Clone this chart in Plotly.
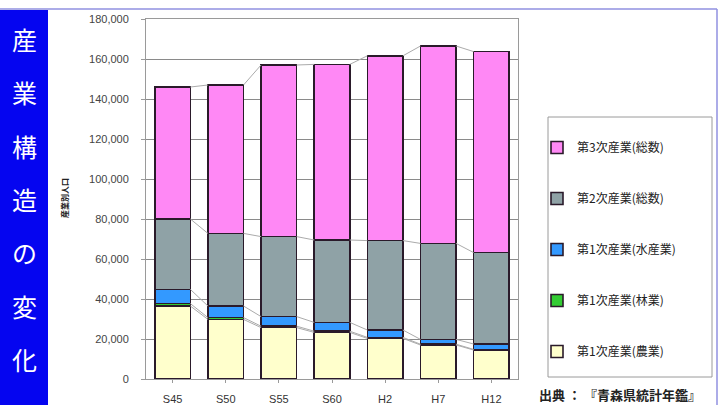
import plotly.graph_objects as go

# 青森県の産業別人口（人）
years = ["S45", "S50", "S55", "S60", "H2", "H7", "H12"]
agriculture = [36500, 29800, 25700, 23300, 20300, 17000, 14500]   # 第1次産業(農業)
forestry = [1200, 900, 700, 600, 500, 400, 300]                   # 第1次産業(林業)
fishery = [7100, 5800, 4800, 4400, 3700, 2400, 2700]              # 第1次産業(水産業)
secondary = [35200, 36300, 40000, 41200, 44700, 48000, 45700]     # 第2次産業(総数)
tertiary = [66000, 74200, 85800, 87800, 92400, 98700, 100500]     # 第3次産業(総数)

y_ticks = [0, 20000, 40000, 60000, 80000, 100000, 120000, 140000, 160000, 180000]

series = [
    ("第1次産業(農業)", agriculture, "#FFFFCC"),
    ("第1次産業(林業)", forestry, "#33CC33"),
    ("第1次産業(水産業)", fishery, "#3399FF"),
    ("第2次産業(総数)", secondary, "#8FA2A6"),
    ("第3次産業(総数)", tertiary, "#FF88F5"),
]

W, H = 721, 405
L, R, T, B = 146, 518, 19, 379
BAR_W = 0.67
xs = list(range(len(years)))


def px(x):
    return (x - L) / (R - L)


def py(y):
    return (B - y) / (B - T)


fig = go.Figure()

# series lines between stacked segments
cum = [0] * len(years)
for name, vals, color in series:
    cum = [c + v for c, v in zip(cum, vals)]
    lx, ly = [], []
    for i in range(len(years) - 1):
        lx += [i + BAR_W / 2, i + 1 - BAR_W / 2, None]
        ly += [cum[i], cum[i + 1], None]
    fig.add_trace(go.Scatter(x=lx, y=ly, mode="lines", showlegend=False,
                             hoverinfo="skip",
                             line=dict(color="#ababab", width=1)))

n = len(series)
for gi, (name, vals, color) in enumerate(series):
    fig.add_trace(go.Bar(
        x=xs, y=vals, name=name, width=BAR_W, legendgroup=f"g{gi}",
        legendrank=n - gi,
        marker=dict(color=color, line=dict(color="#2a1a2a", width=1.6)),
    ))

fig.update_layout(
    barmode="stack",
    width=W, height=H,
    margin=dict(l=L, r=W - R, t=T, b=H - B),
    paper_bgcolor="white",
    plot_bgcolor="white",
    font=dict(family="Noto Sans CJK JP, Arial", color="#333"),
    showlegend=True,
    legend=dict(
        x=px(537), y=py(133), xanchor="left", yanchor="top",
        traceorder="grouped",
        tracegroupgap=32,
        borderwidth=0,
        bgcolor="rgba(0,0,0,0)",
        font=dict(size=12, color="#222"),
        itemwidth=30,
    ),
    xaxis=dict(
        tickmode="array", tickvals=xs, ticktext=years,
        range=[-0.5, len(years) - 0.5],
        showgrid=False, zeroline=False,
        showline=True, linecolor="#9a9a9a", mirror=True,
        ticks="outside", ticklen=3, tickcolor="#9a9a9a",
        ticklabelstandoff=7, automargin=False,
        tickfont=dict(size=11, color="#333", family="Arial"),
    ),
    yaxis=dict(
        range=[0, 180000], tickvals=y_ticks, tickformat=",d",
        showgrid=True, gridcolor="#8a8a8a", gridwidth=1,
        zeroline=False,
        showline=True, linecolor="#9a9a9a", mirror=True,
        ticks="outside", ticklen=4, tickcolor="#9a9a9a",
        ticklabelstandoff=10, automargin=False,
        tickfont=dict(size=11, color="#444", family="Arial"),
    ),
)

shapes = [
    # blue side panel
    dict(type="rect", xref="paper", yref="paper",
         x0=px(0), x1=px(48), y0=py(10), y1=py(405),
         fillcolor="#0505F0", line=dict(width=0), layer="above"),
    # frame lines
    dict(type="line", xref="paper", yref="paper",
         x0=px(0), x1=px(717), y0=py(9), y1=py(9),
         line=dict(color="#9090E0", width=1.5)),
    dict(type="line", xref="paper", yref="paper",
         x0=px(717), x1=px(717), y0=py(9), y1=py(405),
         line=dict(color="#9090E0", width=1.5)),
    # legend box
    dict(type="rect", xref="paper", yref="paper",
         x0=px(548), x1=px(712), y0=py(117), y1=py(377),
         line=dict(color="#9a9a9a", width=1), layer="below"),
]

annotations = []
for k, ch in enumerate("産業構造の変化"):
    annotations.append(dict(
        text=ch, xref="paper", yref="paper",
        x=px(24), y=py(39 + 53.3 * k), showarrow=False,
        xanchor="center", yanchor="middle",
        font=dict(size=25, color="white", family="Noto Sans CJK JP"),
    ))

annotations.append(dict(
    text="<b>産業別人口</b>", xref="paper", yref="paper",
    x=px(64), y=py(198), textangle=-90, showarrow=False,
    xanchor="center", yanchor="middle",
    font=dict(size=8, color="#222", family="Noto Sans CJK JP"),
))

annotations.append(dict(
    text="<b>出典 ： 『青森県統計年鑑』</b>", xref="paper", yref="paper",
    x=px(537), y=py(394), showarrow=False,
    xanchor="left", yanchor="middle",
    font=dict(size=13, color="#222", family="Noto Sans CJK JP"),
))

fig.update_layout(shapes=shapes, annotations=annotations)

fig.write_html("out.html")
